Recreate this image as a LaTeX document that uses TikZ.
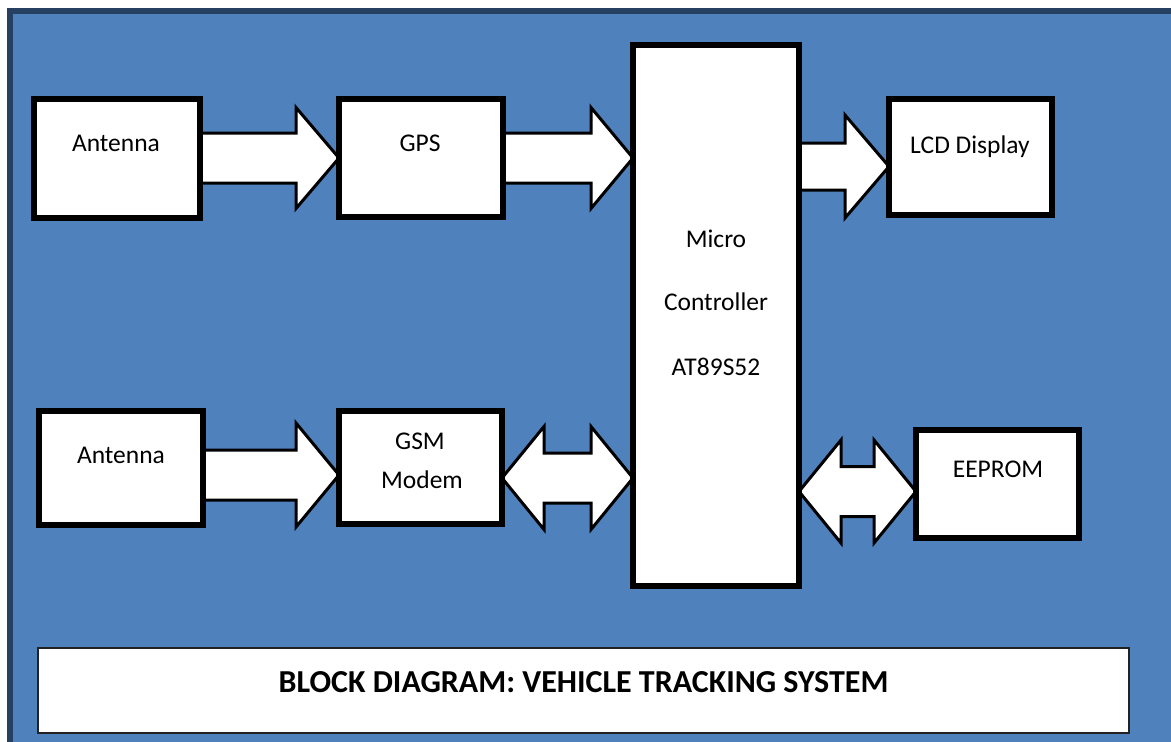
\documentclass[tikz,border=0pt]{standalone}
\usepackage{fontspec}
\setmainfont{Carlito}
\usetikzlibrary{calc}
\definecolor{panelblue}{HTML}{4F81BD}
\definecolor{paneledge}{HTML}{254061}
\definecolor{captionline}{HTML}{222222}
\pgfdeclarelayer{back}
\pgfdeclarelayer{mid}
\pgfsetlayers{back,mid,main}

\tikzset{
  block/.style={draw=black, line width=6pt, fill=white, inner sep=0pt, outer sep=0pt},
  blockarrow/.style={draw=black, line width=3pt, fill=white, line join=miter},
  blocktext/.style={anchor=base, font=\fontsize{25.5}{30}\selectfont, text=black, inner sep=0pt},
  captionbox/.style={draw=captionline, line width=2pt, fill=white, inner sep=0pt, outer sep=0pt},
}

% one-way block arrow: #1 start, #2 tip, #3 shaft half width, #4 head half width, #5 head length
\newcommand\onewayarrow[5]{%
  \draw[blockarrow] ($(#1)+(0,-#3)$) -- ($(#2)+(-#5,-#3)$) -- ($(#2)+(-#5,-#4)$) -- (#2)
    -- ($(#2)+(-#5,#4)$) -- ($(#2)+(-#5,#3)$) -- ($(#1)+(0,#3)$) -- cycle;}
% two-way block arrow: #1 left tip, #2 right tip, #3 shaft half width, #4 head half width, #5 head length
\newcommand\twowayarrow[5]{%
  \draw[blockarrow] (#1) -- ($(#1)+(#5,-#4)$) -- ($(#1)+(#5,-#3)$) -- ($(#2)+(-#5,-#3)$)
    -- ($(#2)+(-#5,-#4)$) -- (#2) -- ($(#2)+(-#5,#4)$) -- ($(#2)+(-#5,#3)$)
    -- ($(#1)+(#5,#3)$) -- ($(#1)+(#5,#4)$) -- cycle;}

\begin{document}
\begin{tikzpicture}[x=1pt,y=-1pt]
\useasboundingbox (0,0) rectangle (1171,742);

% panel
\begin{pgfonlayer}{back}
  \fill[white] (0,0) rectangle (1171,742);
  \fill[paneledge] (7,8) rectangle (1171,742);
  \fill[panelblue] (13,14) rectangle (1171,742);
\end{pgfonlayer}

% blocks
\node[block, minimum width=166pt, minimum height=119pt] (ant1) at (117,158.5) {};
\node[block, minimum width=164pt, minimum height=118pt] (gps)  at (421,158) {};
\node[block, minimum width=166pt, minimum height=541pt] (mcu)  at (716,315.5) {};
\node[block, minimum width=163pt, minimum height=116pt] (lcd)  at (970.5,157) {};
\node[block, minimum width=164pt, minimum height=114pt] (ant2) at (121,468) {};
\node[block, minimum width=163pt, minimum height=113pt] (gsm)  at (420.5,467.5) {};
\node[block, minimum width=163pt, minimum height=108pt] (eep)  at (997.5,484) {};

% block labels
\node[blocktext] (ant1-t) at (116,151) {Antenna};
\node[blocktext] (gps-t)  at (420,151) {GPS};
\node[blocktext] (lcd-t)  at (970,153) {LCD Display};
\node[blocktext] (mcu-t1) at (716,247) {Micro};
\node[blocktext] (mcu-t2) at (716,310) {Controller};
\node[blocktext] (mcu-t3) at (716,375) {AT89S52};
\node[blocktext] (ant2-t) at (121,463) {Antenna};
\node[blocktext] (gsm-t1) at (420,449) {GSM};
\node[blocktext] (gsm-t2) at (422,488) {Modem};
\node[blocktext] (eep-t)  at (998,477) {EEPROM};

% arrow end points
\coordinate (a1s) at (ant1.east |- 0,158);
\coordinate (a1e) at (gps.west |- 0,158);
\coordinate (a2s) at (gps.east |- 0,158);
\coordinate (a2e) at (mcu.west |- 0,158);
\coordinate (a3s) at (mcu.east |- 0,166.5);
\coordinate (a3e) at (lcd.west |- 0,166.5);
\coordinate (a4s) at (ant2.east |- 0,475);
\coordinate (a4e) at (gsm.west |- 0,475);
\coordinate (b1l) at (gsm.east |- 0,478);
\coordinate (b1r) at (mcu.west |- 0,478);
\coordinate (b2l) at (mcu.east |- 0,491.5);
\coordinate (b2r) at (eep.west |- 0,491.5);

% arrows
\begin{pgfonlayer}{mid}
  \onewayarrow{a1s}{a1e}{25}{50.5}{43}
  \onewayarrow{a2s}{a2e}{25}{50.5}{42}
  \onewayarrow{a3s}{a3e}{23.5}{51.5}{44}
  \onewayarrow{a4s}{a4e}{25}{52}{43}
  \twowayarrow{b1l}{b1r}{25}{51.5}{42}
  \twowayarrow{b2l}{b2r}{25}{51.5}{42}
\end{pgfonlayer}

% caption
\node[captionbox, minimum width=1091pt, minimum height=85pt] (cap) at (583.5,690.5) {};
\node[anchor=base, inner sep=0pt, font=\bfseries\fontsize{32}{38}\selectfont, text=black] (cap-t)
  at (583.5,692) {BLOCK DIAGRAM: VEHICLE TRACKING SYSTEM};
\end{tikzpicture}
\end{document}
